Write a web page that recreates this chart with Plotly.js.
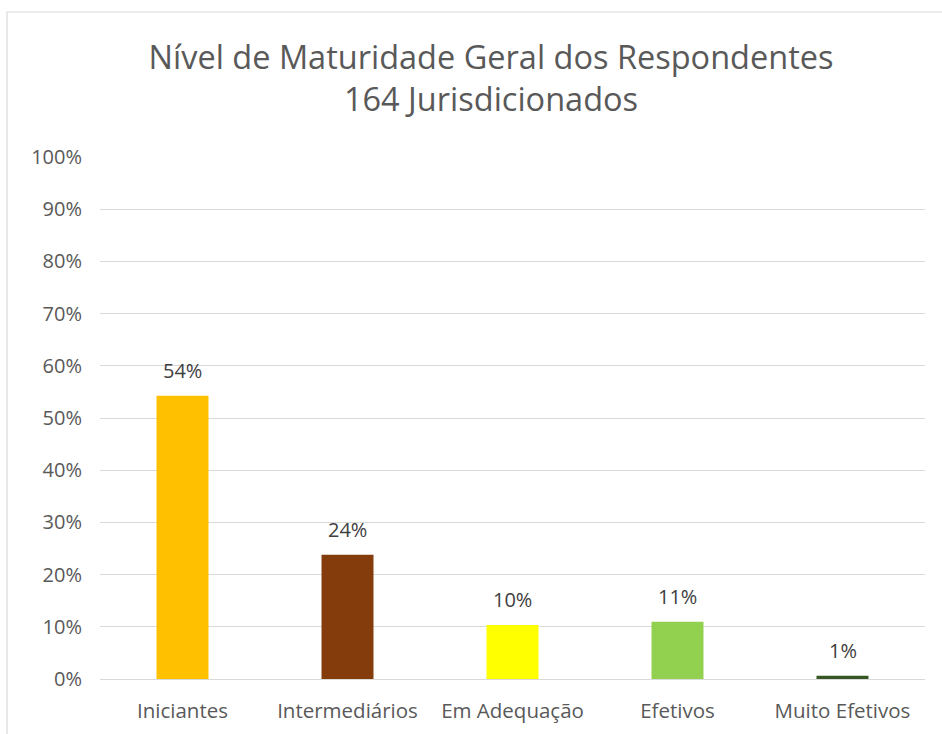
<!DOCTYPE html>
<html><head><meta charset="utf-8">
<script src="https://cdn.plot.ly/plotly-3.0.1.min.js"></script>
<style>html,body{margin:0;padding:0;background:#fff;}#c{width:942px;height:734px;}</style>
</head><body><div id="c"></div>
<script>
const categories = ["Iniciantes", "Intermediários", "Em Adequação", "Efetivos", "Muito Efetivos"];
const counts = [89, 39, 17, 18, 1];
const total = 164;
const shares = counts.map(c => c / total);
const labels = ["54%", "24%", "10%", "11%", "1%"];
const barColors = ["#FFC000", "#843C0C", "#FFFF00", "#92D050", "#375623"];
const titleLines = ["Nível de Maturidade Geral dos Respondentes", "164 Jurisdicionados"];

const FONT = "'Open Sans', Lato, sans-serif";
const GREY = "#595959";

const trace = {
  type: "bar", x: categories, y: shares,
  marker: {color: barColors},
  hoverinfo: "skip"
};

const annotations = categories.map((c, i) => ({
  x: c, y: shares[i], xref: "x", yref: "y",
  text: labels[i], showarrow: false, yanchor: "bottom", yshift: 10,
  font: {family: FONT, size: 20, color: "#404040"}
}));

const layout = {
  width: 942, height: 734,
  margin: {l: 100, r: 17, t: 157, b: 55},
  paper_bgcolor: "rgba(0,0,0,0)", plot_bgcolor: "rgba(0,0,0,0)",
  bargap: 0.685,
  showlegend: false,
  title: {text: titleLines.join("<br>"), x: 491 / 942, xref: "container", xanchor: "center",
          y: 0.906, yanchor: "top", yref: "container",
          font: {family: FONT, size: 32.5, color: GREY}},
  xaxis: {type: "category", showgrid: false, zeroline: false, showline: false,
          ticks: "", ticklabelstandoff: 17,
          tickfont: {family: FONT, size: 20.5, color: GREY}},
  yaxis: {range: [0, 1], dtick: 0.1, tickformat: ".0%", showgrid: true,
          gridcolor: "#d9d9d9", gridwidth: 1, zeroline: true, zerolinecolor: "#d9d9d9",
          zerolinewidth: 1, showline: false, ticks: "", ticklabelstandoff: 17,
          tickfont: {family: FONT, size: 20, color: GREY}},
  annotations: annotations,
  shapes: [{type: "rect", xref: "paper", yref: "paper",
            x0: (7 - 100) / 825, x1: 1.3, y0: -0.5, y1: (679 - 12) / 522,
            line: {color: "#d9d9d9", width: 1.2}, fillcolor: "rgba(0,0,0,0)", layer: "below"}]
};

Plotly.newPlot("c", [trace], layout, {displayModeBar: false, staticPlot: true});
</script></body></html>
